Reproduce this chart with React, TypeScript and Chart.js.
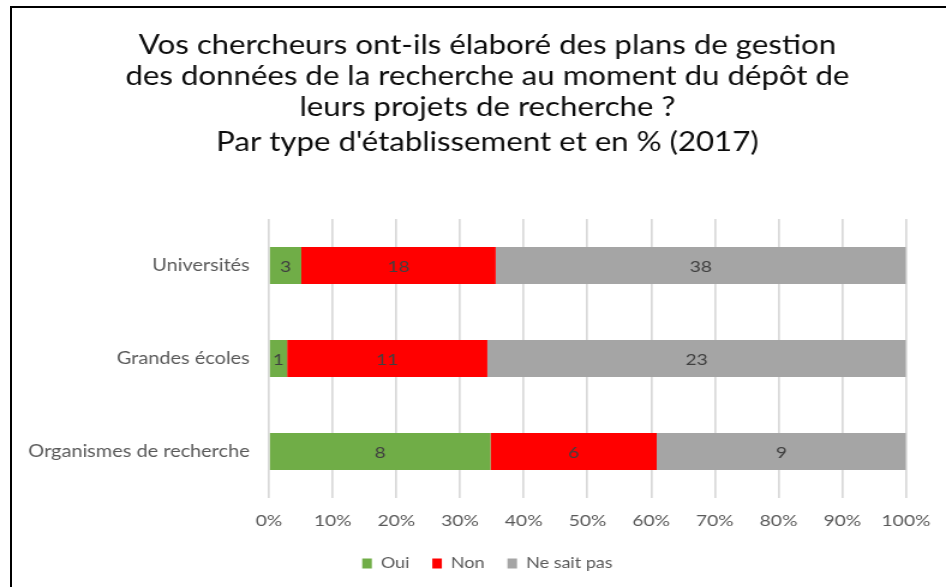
import React, { useEffect, useRef } from "react";
import { Chart, registerables } from "chart.js";

Chart.register(...registerables);

const categories = ["Universités", "Grandes écoles", "Organismes de recherche"];
const seriesNames = ["Oui", "Non", "Ne sait pas"];
const ouiValues = [3, 1, 8];
const nonValues = [18, 11, 6];
const nspValues = [38, 23, 9];
const seriesColors = ["#70AD47", "#FF0000", "#A5A5A5"];
const titleLines = [
  "Vos chercheurs ont-ils élaboré des plans de gestion",
  "des données de la recherche au moment du dépôt de",
  "leurs projets de recherche ?",
];
const subtitleLine = "Par type d'établissement et en % (2017)";

const FONT = "Lato, 'Noto Sans', sans-serif";

// The reference is horizontally stretched; draw at a narrower internal width
// and let CSS widen it to 946px.
const OUT_W = 946;
const OUT_H = 587;
const INNER_W = 788;

const rawSeries = [ouiValues, nonValues, nspValues];
const totals = categories.map((_, i) => rawSeries.reduce((s, arr) => s + arr[i], 0));

const dataLabelPlugin = {
  id: "segmentLabels",
  afterDatasetsDraw(chart: any) {
    const ctx = chart.ctx;
    ctx.save();
    ctx.font = `16px ${FONT}`;
    ctx.fillStyle = "#404040";
    ctx.textAlign = "center";
    ctx.textBaseline = "middle";
    chart.data.datasets.forEach((ds: any, di: number) => {
      const meta = chart.getDatasetMeta(di);
      meta.data.forEach((el: any, i: number) => {
        const raw = ds.raw[i];
        const cx = (el.x + el.base) / 2;
        ctx.fillText(String(raw), cx, el.y + 1);
      });
    });
    ctx.restore();
  },
};

export default function App() {
  const canvasRef = useRef<HTMLCanvasElement | null>(null);

  useEffect(() => {
    if (!canvasRef.current) return;
    const datasets = rawSeries.map((arr, si) => ({
      label: seriesNames[si],
      data: arr.map((v, i) => (v / totals[i]) * 100),
      raw: arr,
      backgroundColor: seriesColors[si],
      borderWidth: 0,
      barPercentage: 0.4,
      categoryPercentage: 1,
    }));
    const chart = new Chart(canvasRef.current, {
      type: "bar",
      data: { labels: categories, datasets: datasets as any },
      plugins: [dataLabelPlugin],
      options: {
        indexAxis: "y",
        responsive: false,
        animation: false,
        devicePixelRatio: 1,
        layout: { padding: { left: 56, right: 32, top: 0, bottom: 6 } },
        plugins: {
          title: {
            display: true,
            text: titleLines,
            color: "#0D0D0D",
            font: { family: FONT, size: 26, weight: "normal", lineHeight: 31 / 26 },
            padding: { top: 30, bottom: 4 },
          },
          subtitle: {
            display: true,
            text: subtitleLine,
            color: "#0D0D0D",
            font: { family: FONT, size: 26, weight: "normal", lineHeight: 31 / 26 },
            padding: { top: 0, bottom: 61 },
          },
          legend: {
            position: "bottom",
            labels: {
              boxWidth: 8,
              boxHeight: 10,
              padding: 19,
              color: "#595959",
              font: { family: FONT, size: 15 },
            },
          },
          tooltip: { enabled: false },
        },
        scales: {
          x: {
            stacked: true,
            min: 0,
            max: 100,
            ticks: {
              stepSize: 10,
              callback: (v: any) => v + "%",
              color: "#595959",
              font: { family: FONT, size: 16 },
              padding: 13,
            },
            grid: { color: "#D9D9D9", lineWidth: 1.7, drawTicks: false },
            border: { display: false },
            afterFit: (scale: any) => {
              scale.height = 39;
            },
          },
          y: {
            stacked: true,
            ticks: {
              color: "#595959",
              font: { family: FONT, size: 16.6 },
              padding: 16,
            },
            grid: { display: false, drawTicks: false },
            border: { display: false },
            afterFit: (scale: any) => {
              scale.width = 168;
            },
            afterUpdate: (scale: any) => {
              // let long category labels extend past the axis box without clipping
              scale._computeLabelArea = () => undefined;
            },
          },
        },
      } as any,
    });
    return () => chart.destroy();
  }, []);

  return (
    <div
      style={{
        position: "fixed",
        left: 0,
        top: 0,
        width: OUT_W,
        height: OUT_H,
        background: "#ffffff",
        overflow: "hidden",
      }}
    >
      <canvas
        ref={canvasRef}
        width={INNER_W}
        height={OUT_H}
        style={{ position: "absolute", left: 0, top: 0, display: "block", width: OUT_W, height: OUT_H }}
      />
      <div style={{ position: "absolute", left: 10, top: 6, width: 936, height: 2, background: "#000" }} />
      <div style={{ position: "absolute", left: 10, top: 6, width: 2, height: 581, background: "#000" }} />
    </div>
  );
}
